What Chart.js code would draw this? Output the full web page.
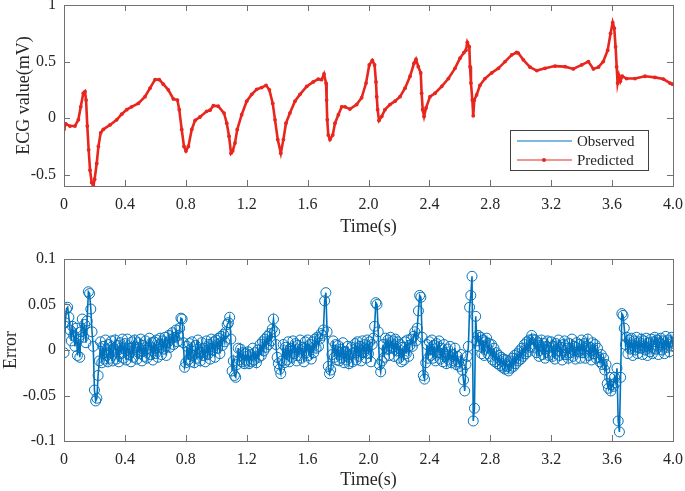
<!DOCTYPE html>
<html>
<head>
<meta charset="utf-8">
<script src="https://cdn.jsdelivr.net/npm/chart.js@4"></script>
<style>
  body { margin: 0; background: #fff; }
  canvas { display: block; }
</style>
</head>
<body>
<canvas id="ecgChart" width="685" height="245"></canvas>
<canvas id="errChart" width="685" height="246"></canvas>
<script>
// ECG trace (s, mV)
const ecgTime = [0.000, 0.012, 0.039, 0.072, 0.094, 0.110, 0.127, 0.138, 0.145, 0.153, 0.162, 0.171, 0.182, 0.193, 0.201, 0.215, 0.226, 0.241, 0.258, 0.302,
  0.346, 0.379, 0.412, 0.444, 0.488, 0.532, 0.565, 0.598, 0.626, 0.652, 0.685, 0.718, 0.745, 0.757, 0.773, 0.788, 0.801, 0.817, 0.839, 0.861,
  0.893, 0.937, 0.959, 0.981, 1.013, 1.051, 1.069, 1.084, 1.097, 1.108, 1.123, 1.138, 1.167, 1.200, 1.233, 1.266, 1.298, 1.327, 1.349, 1.371,
  1.386, 1.404, 1.424, 1.441, 1.458, 1.484, 1.517, 1.550, 1.594, 1.637, 1.670, 1.692, 1.708, 1.721, 1.725, 1.729, 1.736, 1.747, 1.765, 1.780,
  1.802, 1.824, 1.846, 1.878, 1.922, 1.955, 1.984, 2.005, 2.025, 2.040, 2.049, 2.054, 2.060, 2.069, 2.087, 2.108, 2.141, 2.174, 2.207, 2.240,
  2.273, 2.299, 2.312, 2.327, 2.343, 2.349, 2.356, 2.365, 2.378, 2.404, 2.437, 2.481, 2.525, 2.568, 2.601, 2.627, 2.640, 2.649, 2.662, 2.667,
  2.673, 2.682, 2.688, 2.695, 2.710, 2.732, 2.765, 2.809, 2.853, 2.897, 2.941, 2.973, 2.984, 3.017, 3.061, 3.105, 3.159, 3.225, 3.291, 3.345,
  3.400, 3.444, 3.477, 3.510, 3.542, 3.571, 3.590, 3.604, 3.614, 3.623, 3.630, 3.636, 3.645, 3.654, 3.667, 3.695, 3.750, 3.816, 3.882, 3.937,
  3.980, 3.996];
const ecgValue = [-0.10, -0.05, -0.07, -0.07, -0.015, 0.10, 0.22, 0.235, 0.16, -0.07, -0.28, -0.46, -0.57, -0.60, -0.54, -0.40, -0.25, -0.13, -0.10, -0.06,
  -0.015, 0.035, 0.075, 0.10, 0.13, 0.19, 0.265, 0.34, 0.34, 0.30, 0.25, 0.17, 0.16, 0.075, -0.10, -0.25, -0.29, -0.25, -0.10, -0.02,
  0.01, 0.06, 0.07, 0.11, 0.105, 0.045, -0.045, -0.16, -0.31, -0.29, -0.22, -0.10, 0.03, 0.15, 0.21, 0.255, 0.27, 0.29, 0.25, 0.13,
  -0.015, -0.19, -0.31, -0.19, -0.045, 0.045, 0.15, 0.21, 0.28, 0.32, 0.345, 0.34, 0.39, 0.31, 0.16, -0.015, -0.15, -0.19, -0.15, -0.045,
  0.03, 0.10, 0.10, 0.08, 0.12, 0.18, 0.31, 0.47, 0.51, 0.47, 0.32, 0.19, 0.075, -0.02, 0.015, 0.075, 0.12, 0.15, 0.19, 0.265,
  0.37, 0.485, 0.52, 0.455, 0.40, 0.22, 0.075, 0.015, 0.09, 0.19, 0.22, 0.28, 0.35, 0.44, 0.53, 0.58, 0.60, 0.67, 0.63, 0.455,
  0.31, 0.16, 0.02, 0.16, 0.205, 0.29, 0.35, 0.40, 0.44, 0.50, 0.56, 0.58, 0.575, 0.515, 0.45, 0.42, 0.44, 0.46, 0.455, 0.435,
  0.47, 0.50, 0.435, 0.45, 0.50, 0.60, 0.75, 0.845, 0.795, 0.63, 0.455, 0.31, 0.375, 0.325, 0.37, 0.35, 0.35, 0.37, 0.36, 0.345,
  0.31, 0.30];

// prediction error, one value per sample (sample period errStep s), one row = 0.2 s
const errStep = 0.008;
const errValue = [
  -0.003, 0.030, 0.045, 0.047, 0.036, 0.022, 0.010, 0.026, 0.016, 0.004, 0.024, -0.006, 0.012, -0.008, 0.020, 0.034, 0.014, 0.028, 0.008, 0.032, 0.064, 0.062, 0.045, 0.020, 0.004,
  -0.044, -0.056, -0.053, -0.028, -0.012, 0.009, -0.014, 0.004, -0.010, 0.011, -0.006, -0.013, 0.006, -0.009, 0.010, -0.012, 0.002, 0.011, -0.010, 0.005, -0.013, 0.008, -0.004, 0.012, -0.009,
  0.007, -0.011, 0.012, -0.005, 0.002, -0.013, 0.009, -0.008, 0.011, 0.003, -0.010, 0.008, -0.004, 0.012, -0.012, 0.005, -0.007, 0.010, -0.009, 0.002, 0.013, -0.005, 0.008, -0.011, 0.009,
  -0.004, 0.011, -0.008, 0.006, 0.013, -0.005, 0.010, 0.001, 0.014, -0.006, 0.008, 0.016, 0.003, 0.012, 0.019, 0.006, 0.014, 0.022, 0.009, 0.016, 0.024, 0.035, 0.034, 0.008, -0.019,
  -0.014, 0.004, -0.011, 0.007, -0.013, 0.009, -0.006, -0.014, 0.005, -0.009, 0.011, -0.003, -0.012, 0.008, -0.006, 0.002, -0.013, 0.010, -0.005, 0.006, -0.010, 0.012, 0.000, 0.009, -0.008,
  0.011, 0.002, 0.013, -0.004, 0.015, 0.005, 0.017, 0.009, 0.020, 0.028, 0.030, 0.036, 0.012, -0.023, -0.012, -0.028, -0.030, -0.016, 0.002, -0.011, 0.001, -0.013, -0.003, -0.015, -0.004,
  -0.012, -0.002, -0.015, -0.005, -0.013, 0.002, -0.011, -0.003, -0.014, 0.000, -0.008, 0.006, -0.006, 0.009, -0.001, 0.012, 0.003, 0.015, 0.006, 0.018, 0.010, 0.023, 0.034, 0.020, 0.006,
  -0.008, -0.015, -0.021, -0.026, -0.012, 0.006, -0.014, 0.003, -0.011, 0.009, -0.013, 0.002, -0.008, 0.010, -0.004, 0.007, -0.012, 0.005, -0.006, 0.011, -0.009, 0.003, -0.013, 0.009, -0.003,
  0.011, -0.006, 0.006, -0.010, 0.009, -0.003, 0.012, 0.002, 0.014, 0.004, 0.012, 0.018, 0.016, 0.022, 0.054, 0.063, 0.020, -0.018, -0.026, -0.022, -0.005, 0.010, -0.008, 0.006, -0.011,
  0.005, -0.012, 0.001, -0.009, 0.008, -0.014, -0.002, -0.011, 0.004, -0.015, -0.005, 0.003, -0.013, -0.003, 0.007, -0.011, 0.009, -0.007, 0.004, -0.012, 0.010, -0.003, 0.006, -0.009, 0.011,
  -0.004, 0.009, -0.013, 0.006, 0.013, 0.026, 0.052, 0.050, 0.020, -0.016, -0.024, -0.012, 0.006, -0.008, 0.013, 0.001, 0.011, -0.006, 0.014, 0.002, 0.010, -0.007, 0.012, -0.001, 0.009,
  -0.009, 0.006, -0.013, 0.003, -0.011, 0.009, -0.004, 0.011, -0.007, 0.005, 0.012, 0.004, 0.015, 0.020, 0.010, 0.024, 0.043, 0.060, 0.058, 0.014, -0.028, -0.032, -0.014, 0.006, -0.009,
  0.009, -0.006, 0.011, -0.009, 0.005, -0.012, 0.007, -0.003, 0.010, -0.010, 0.002, -0.013, 0.006, -0.007, -0.015, 0.001, -0.011, 0.004, -0.014, -0.005, -0.012, 0.002, -0.016, -0.007, -0.013,
  -0.018, -0.005, -0.022, -0.033, -0.045, -0.016, -0.007, 0.004, 0.047, 0.060, 0.081, -0.078, -0.064, 0.037, 0.010, 0.016, 0.004, 0.014, -0.004, 0.011, -0.006, 0.009, 0.013, -0.004, 0.007,
  -0.007, 0.006, -0.011, 0.002, -0.013, -0.003, -0.015, -0.006, -0.017, -0.008, -0.019, -0.010, -0.021, -0.011, -0.018, -0.023, -0.012, -0.020, -0.009, -0.018, -0.006, -0.015, -0.004, -0.012, -0.001,
  -0.010, 0.002, -0.007, 0.006, -0.004, 0.009, -0.002, 0.011, 0.003, 0.016, 0.012, 0.003, 0.011, -0.003, 0.008, -0.007, 0.005, 0.011, -0.005, 0.007, -0.009, 0.004, 0.010, -0.006, 0.003,
  0.009, -0.007, 0.004, -0.010, 0.007, -0.001, 0.011, -0.006, 0.003, -0.011, 0.006, 0.010, -0.005, 0.002, -0.009, 0.007, -0.003, 0.012, -0.007, 0.004, -0.010, 0.008, -0.002, 0.006, -0.009,
  0.011, -0.003, 0.007, -0.009, 0.004, 0.012, -0.006, 0.003, -0.011, 0.008, -0.004, 0.006, -0.009, 0.002, -0.008, -0.013, -0.005, -0.016, -0.009, -0.022, -0.016, -0.037, -0.042, -0.030, -0.045,
  -0.038, -0.040, -0.030, -0.036, -0.020, -0.078, -0.090, -0.030, 0.040, 0.038, 0.024, 0.006, 0.014, -0.004, 0.011, 0.001, 0.013, -0.006, 0.010, 0.000, 0.014, -0.004, 0.009, 0.002, 0.012,
  -0.005, 0.010, 0.000, 0.013, -0.006, 0.008, -0.002, 0.012, -0.004, 0.009, 0.014, 0.001, 0.011, -0.005, 0.008, 0.013, 0.000, 0.010, -0.004, 0.015, 0.003, 0.011, -0.002, 0.009, 0.014,
  0.004];

const xTickValues = [0, 0.4, 0.8, 1.2, 1.6, 2.0, 2.4, 2.8, 3.2, 3.6, 4.0];
const xTickLabels = ['0', '0.4', '0.8', '1.2', '1.6', '2.0', '2.4', '2.8', '3.2', '3.6', '4.0'];
const ecgTickValues = [-0.5, 0, 0.5, 1];
const ecgTickLabels = ['-0.5', '0', '0.5', '1'];
const errTickValues = [-0.1, -0.05, 0, 0.05, 0.1];
const errTickLabels = ['-0.1', '-0.05', '0', '0.05', '0.1'];

const BLUE = '#0072bd';
const RED = '#e8261e';
const FONT = "'Liberation Serif', 'Times New Roman', serif";
const INK = '#262626';

// axes box with inward ticks on all four sides (matlab look)
const frame = {
  id: 'frame',
  afterDatasetsDraw(chart) {
    const { ctx, chartArea: a, scales: { x, y } } = chart;
    ctx.save();
    ctx.strokeStyle = '#707070';
    ctx.lineWidth = 1;
    ctx.strokeRect(a.left + 0.5, a.top + 0.5, a.width, a.height);
    ctx.beginPath();
    x.ticks.forEach(t => {
      const px = Math.round(x.getPixelForValue(t.value)) + 0.5;
      ctx.moveTo(px, a.bottom); ctx.lineTo(px, a.bottom - 6);
      ctx.moveTo(px, a.top); ctx.lineTo(px, a.top + 6);
    });
    y.ticks.forEach(t => {
      const py = Math.round(y.getPixelForValue(t.value)) + 0.5;
      ctx.moveTo(a.left, py); ctx.lineTo(a.left + 6, py);
      ctx.moveTo(a.right, py); ctx.lineTo(a.right - 6, py);
    });
    ctx.stroke();
    ctx.restore();
  }
};

// legend box in the lower right of the ECG panel
const boxLegend = {
  id: 'boxLegend',
  afterDraw(chart) {
    const { ctx, chartArea: a } = chart;
    const left = a.right - 163, top = a.top + 125, w = 138, h = 40;
    ctx.save();
    ctx.fillStyle = '#fff';
    ctx.fillRect(left, top, w, h);
    ctx.strokeStyle = '#404040';
    ctx.lineWidth = 1;
    ctx.strokeRect(left + 0.5, top + 0.5, w, h);
    ctx.font = '15px ' + FONT;
    ctx.textBaseline = 'middle';
    chart.data.datasets.forEach((ds, i) => {
      const yy = top + 11 + i * 19;
      ctx.strokeStyle = ds.borderColor;
      ctx.lineWidth = i === 0 ? 1 : 1.2;
      ctx.beginPath();
      ctx.moveTo(left + 7, yy);
      ctx.lineTo(left + 62, yy);
      ctx.stroke();
      if (ds.pointRadius > 0) {
        ctx.fillStyle = ds.pointBackgroundColor;
        ctx.beginPath();
        ctx.arc(left + 34, yy, 2, 0, Math.PI * 2);
        ctx.fill();
      }
      ctx.fillStyle = INK;
      ctx.fillText(ds.label, left + 67, yy + 1);
    });
    ctx.restore();
  }
};

function xScale(height) {
  return {
    type: 'linear',
    min: 0,
    max: 4,
    grid: { display: false, drawTicks: false },
    border: { display: false },
    afterBuildTicks: s => { s.ticks = xTickValues.map(v => ({ value: v })); },
    afterFit: s => { s.height = height; s.paddingLeft = 0; s.paddingRight = 0; },
    ticks: {
      autoSkip: false,
      maxRotation: 0,
      padding: 9,
      color: INK,
      font: { family: FONT, size: 16 },
      callback: (v, i) => xTickLabels[i]
    },
    title: { display: true, text: 'Time(s)', color: INK, font: { family: FONT, size: 18 }, padding: { top: 0, bottom: 0 } }
  };
}

function yScale(min, max, values, labels, title, titlePad) {
  return {
    type: 'linear',
    min: min,
    max: max,
    grid: { display: false, drawTicks: false },
    border: { display: false },
    afterBuildTicks: s => { s.ticks = values.map(v => ({ value: v })); },
    afterFit: s => { s.width = 64; s.paddingTop = 0; s.paddingBottom = 0; },
    ticks: {
      autoSkip: false,
      padding: 8,
      color: INK,
      font: { family: FONT, size: 16 },
      callback: (v, i) => labels[i]
    },
    title: { display: true, text: title, color: INK, font: { family: FONT, size: 18 }, padding: { top: titlePad, bottom: 0 } }
  };
}

const ecgObserved = ecgTime.map((t, i) => ({ x: t, y: ecgValue[i] }));
const ecgPredicted = ecgTime.map((t, i) => ({ x: t, y: ecgValue[i] }));
const errPoints = errValue.map((v, i) => ({ x: i * errStep, y: v }));

new Chart(document.getElementById('ecgChart'), {
  type: 'line',
  data: {
    datasets: [
      {
        label: 'Observed',
        data: ecgObserved,
        borderColor: BLUE,
        borderWidth: 1,
        pointRadius: 0,
        order: 2
      },
      {
        label: 'Predicted',
        data: ecgPredicted,
        borderColor: RED,
        backgroundColor: RED,
        pointBackgroundColor: RED,
        pointBorderColor: RED,
        borderWidth: 2.6,
        pointRadius: 1.9,
        pointBorderWidth: 0,
        order: 1
      }
    ]
  },
  options: {
    responsive: false,
    animation: false,
    layout: { padding: { left: 0, right: 12, top: 5, bottom: 7 } },
    plugins: { legend: { display: false }, tooltip: { enabled: false } },
    scales: {
      x: xScale(52),
      y: yScale(-0.6, 1, ecgTickValues, ecgTickLabels, 'ECG value(mV)', 13)
    }
  },
  plugins: [frame, boxLegend]
});

new Chart(document.getElementById('errChart'), {
  type: 'line',
  data: {
    datasets: [{
      label: 'Error',
      data: errPoints,
      borderColor: BLUE,
      borderWidth: 1.6,
      pointStyle: 'circle',
      pointRadius: 5,
      pointBorderWidth: 1,
      pointBorderColor: BLUE,
      pointBackgroundColor: 'rgba(0,0,0,0)'
    }]
  },
  options: {
    responsive: false,
    animation: false,
    layout: { padding: { left: 0, right: 12, top: 14, bottom: 0 } },
    plugins: { legend: { display: false }, tooltip: { enabled: false } },
    scales: {
      x: xScale(50),
      y: yScale(-0.1, 0.1, errTickValues, errTickLabels, 'Error', 0)
    }
  },
  plugins: [frame]
});
</script>
</body>
</html>
